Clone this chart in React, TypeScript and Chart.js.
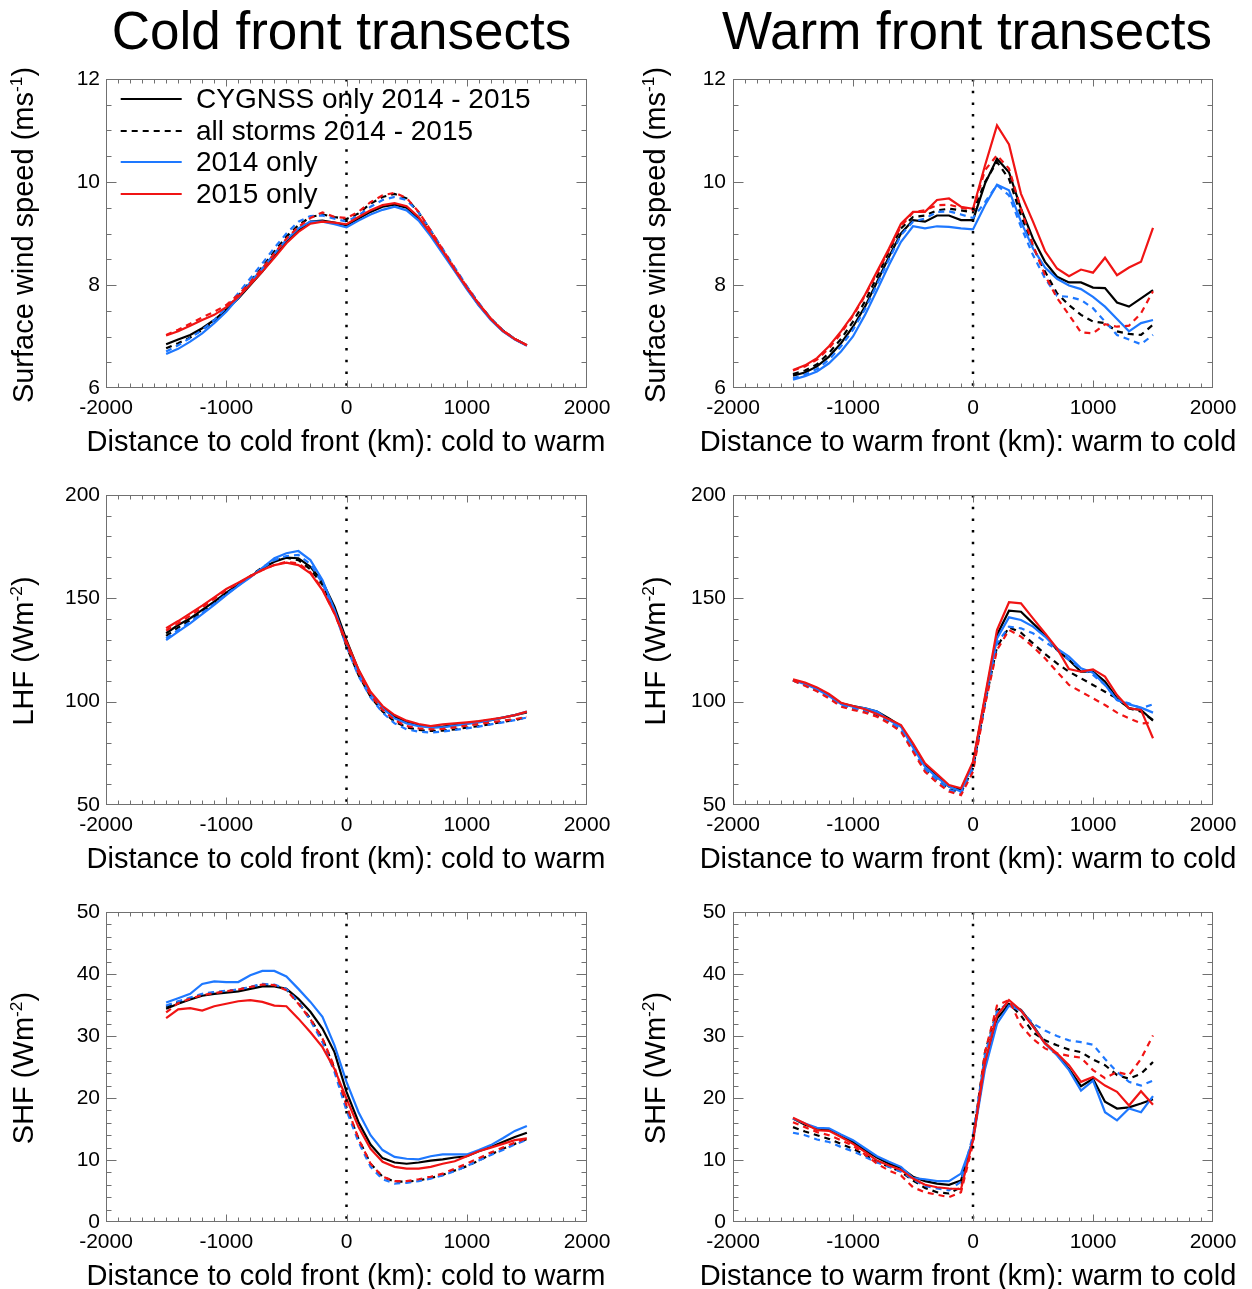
import React, { useEffect, useRef } from "react";
import { Chart, registerables } from "chart.js";

Chart.register(...registerables);

const FONT = '"Liberation Sans", Arial, Helvetica, sans-serif';

// ---------------- data ----------------
const distanceKm = [
  -1500, -1400, -1300, -1200, -1100, -1000, -900, -800, -700, -600, -500, -400, -300, -200, -100,
  0, 100, 200, 300, 400, 500, 600, 700, 800, 900, 1000, 1100, 1200, 1300, 1400, 1500,
];

const legendLabels = ["CYGNSS only 2014 - 2015", "all storms 2014 - 2015", "2014 only", "2015 only"];

// Cold front, surface wind speed (m/s)
const coldWind_cygnss = [6.85, 6.94, 7.03, 7.16, 7.32, 7.52, 7.74, 8.0, 8.26, 8.55, 8.84, 9.06, 9.23, 9.25, 9.21, 9.16, 9.29, 9.42, 9.52, 9.56, 9.5, 9.29, 8.98, 8.65, 8.29, 7.94, 7.61, 7.34, 7.11, 6.95, 6.83];
const coldWind_all = [6.77, 6.87, 6.98, 7.13, 7.3, 7.53, 7.79, 8.06, 8.35, 8.65, 8.94, 9.16, 9.32, 9.37, 9.32, 9.28, 9.39, 9.58, 9.71, 9.77, 9.68, 9.41, 9.05, 8.68, 8.32, 7.97, 7.64, 7.35, 7.12, 6.95, 6.83];
const coldWind_2014 = [6.66, 6.76, 6.9, 7.06, 7.26, 7.48, 7.75, 8.05, 8.32, 8.61, 8.88, 9.1, 9.23, 9.23, 9.18, 9.12, 9.25, 9.37, 9.46, 9.52, 9.45, 9.25, 8.95, 8.61, 8.27, 7.92, 7.6, 7.32, 7.1, 6.94, 6.82];
const coldWind_2014all = [6.71, 6.83, 6.97, 7.13, 7.32, 7.56, 7.84, 8.13, 8.42, 8.72, 9.0, 9.23, 9.34, 9.35, 9.29, 9.23, 9.35, 9.52, 9.65, 9.71, 9.65, 9.41, 9.06, 8.7, 8.34, 7.98, 7.65, 7.35, 7.12, 6.95, 6.83];
const coldWind_2015 = [7.02, 7.1, 7.21, 7.32, 7.42, 7.57, 7.77, 8.01, 8.26, 8.53, 8.81, 9.03, 9.19, 9.23, 9.21, 9.18, 9.32, 9.45, 9.55, 9.59, 9.53, 9.32, 9.0, 8.66, 8.3, 7.95, 7.63, 7.34, 7.11, 6.95, 6.83];
const coldWind_2015all = [7.03, 7.13, 7.25, 7.37, 7.48, 7.61, 7.81, 8.05, 8.32, 8.61, 8.9, 9.13, 9.3, 9.41, 9.32, 9.3, 9.42, 9.61, 9.74, 9.79, 9.69, 9.42, 9.06, 8.69, 8.32, 7.97, 7.64, 7.35, 7.12, 6.95, 6.83];

// Warm front, surface wind speed (m/s)
const warmWind_cygnss = [6.24, 6.3, 6.42, 6.61, 6.87, 7.19, 7.58, 8.06, 8.55, 9.0, 9.26, 9.23, 9.35, 9.35, 9.26, 9.26, 9.97, 10.45, 10.19, 9.48, 8.9, 8.45, 8.16, 8.05, 8.05, 7.95, 7.94, 7.66, 7.58, 7.74, 7.9];
const warmWind_all = [6.27, 6.34, 6.46, 6.68, 6.95, 7.29, 7.68, 8.16, 8.65, 9.1, 9.32, 9.35, 9.45, 9.48, 9.45, 9.41, 10.0, 10.39, 10.06, 9.35, 8.74, 8.26, 7.84, 7.61, 7.42, 7.29, 7.26, 7.1, 7.05, 7.03, 7.23];
const warmWind_2014 = [6.16, 6.23, 6.32, 6.48, 6.71, 7.0, 7.42, 7.9, 8.39, 8.84, 9.14, 9.1, 9.14, 9.13, 9.1, 9.08, 9.55, 9.95, 9.84, 9.23, 8.71, 8.34, 8.12, 7.99, 7.92, 7.77, 7.58, 7.34, 7.1, 7.26, 7.32];
const warmWind_2014all = [6.19, 6.26, 6.37, 6.55, 6.81, 7.13, 7.53, 8.01, 8.5, 8.97, 9.23, 9.29, 9.42, 9.43, 9.37, 9.3, 9.61, 9.94, 9.74, 9.13, 8.58, 8.13, 7.79, 7.77, 7.71, 7.55, 7.29, 7.03, 6.94, 6.85, 7.03];
const warmWind_2015 = [6.35, 6.44, 6.58, 6.81, 7.1, 7.42, 7.81, 8.26, 8.71, 9.19, 9.42, 9.42, 9.65, 9.68, 9.52, 9.48, 10.32, 11.1, 10.73, 9.77, 9.23, 8.66, 8.32, 8.17, 8.3, 8.24, 8.53, 8.19, 8.34, 8.45, 9.11];
const warmWind_2015all = [6.34, 6.42, 6.55, 6.77, 7.06, 7.4, 7.79, 8.23, 8.68, 9.14, 9.41, 9.45, 9.55, 9.56, 9.5, 9.45, 10.23, 10.52, 10.26, 9.48, 8.77, 8.19, 7.75, 7.42, 7.08, 7.06, 7.24, 7.19, 7.21, 7.45, 7.88];

// Cold front, LHF (W/m2)
const coldLHF_cygnss = [133.1, 137.1, 140.3, 144.4, 148.4, 152.7, 156.5, 160.5, 164.5, 167.7, 169.7, 169.4, 165.3, 158.1, 146.0, 129.8, 115.3, 104.0, 97.3, 92.7, 90.3, 88.7, 87.6, 87.9, 88.7, 89.5, 90.3, 91.1, 92.3, 93.5, 94.8];
const coldLHF_all = [131.8, 135.8, 139.5, 143.5, 147.9, 152.4, 156.5, 160.8, 165.0, 168.2, 169.7, 168.5, 164.0, 156.5, 144.4, 126.6, 112.9, 102.4, 95.2, 90.3, 87.6, 86.3, 85.8, 86.0, 86.6, 87.4, 88.2, 89.2, 90.2, 91.1, 92.4];
const coldLHF_2014 = [129.8, 133.9, 137.9, 142.3, 146.8, 151.6, 156.0, 160.2, 164.8, 169.4, 171.8, 172.9, 168.5, 158.9, 144.4, 128.2, 114.5, 104.0, 96.8, 91.9, 89.5, 88.2, 87.6, 87.6, 88.4, 89.2, 90.0, 91.1, 92.3, 93.5, 95.2];
const coldLHF_2014all = [130.6, 134.7, 138.6, 142.9, 147.3, 151.9, 156.2, 160.4, 164.6, 168.5, 170.5, 171.0, 166.6, 157.3, 143.5, 126.6, 112.4, 102.1, 94.7, 89.5, 86.6, 85.5, 85.0, 85.5, 86.3, 87.1, 87.9, 89.0, 90.0, 91.1, 92.3];
const coldLHF_2015 = [135.5, 139.0, 142.7, 146.5, 150.5, 154.5, 157.6, 160.8, 163.7, 166.1, 167.3, 166.1, 162.1, 154.0, 142.7, 129.0, 115.6, 104.8, 97.9, 93.5, 90.8, 89.2, 88.2, 89.0, 89.5, 90.0, 90.6, 91.5, 92.3, 93.5, 95.2];
const coldLHF_2015all = [134.4, 137.9, 141.6, 145.6, 149.7, 154.0, 157.3, 160.5, 163.7, 166.1, 167.7, 166.9, 162.6, 154.5, 142.7, 127.9, 114.0, 103.2, 96.0, 91.1, 88.2, 87.1, 86.6, 86.8, 87.6, 88.4, 89.2, 90.0, 90.8, 91.5, 92.7];

// Warm front, LHF (W/m2)
const warmLHF_cygnss = [110.5, 108.9, 106.5, 103.2, 99.2, 97.9, 96.8, 95.2, 91.9, 88.2, 78.5, 69.4, 64.0, 58.9, 57.3, 70.2, 101.6, 132.3, 144.0, 143.5, 137.9, 132.3, 125.0, 120.2, 114.5, 114.5, 109.7, 101.6, 96.8, 96.0, 90.8];
const warmLHF_all = [110.2, 108.1, 105.6, 102.4, 98.4, 96.8, 95.5, 93.5, 90.3, 86.3, 76.6, 67.3, 62.1, 57.6, 56.0, 67.7, 99.2, 126.6, 136.0, 133.4, 128.2, 123.1, 118.5, 114.5, 111.3, 108.1, 104.8, 101.6, 96.8, 95.2, 91.1];
const warmLHF_2014 = [110.5, 108.5, 106.0, 102.7, 98.9, 97.6, 96.8, 95.2, 91.1, 87.9, 77.9, 68.5, 63.4, 58.9, 56.5, 70.2, 100.8, 130.6, 140.8, 139.5, 136.3, 131.5, 125.8, 121.8, 116.1, 114.0, 108.1, 100.8, 98.7, 97.1, 94.7];
const warmLHF_2014all = [110.2, 108.0, 105.3, 102.1, 98.2, 96.8, 95.6, 94.0, 90.5, 86.6, 76.6, 67.3, 62.1, 57.3, 55.6, 67.7, 99.2, 128.2, 136.3, 135.5, 133.1, 129.0, 125.0, 120.2, 116.1, 112.9, 108.1, 100.8, 99.2, 96.8, 98.7];
const warmLHF_2015 = [110.8, 109.2, 106.9, 103.7, 99.5, 97.9, 96.3, 94.0, 91.5, 88.7, 79.8, 70.2, 65.0, 59.7, 58.1, 71.0, 102.7, 134.7, 148.1, 147.6, 140.3, 133.1, 125.8, 115.8, 114.5, 115.6, 112.1, 103.2, 96.8, 96.0, 82.3];
const warmLHF_2015all = [110.2, 107.7, 105.0, 101.6, 97.6, 96.0, 94.7, 92.7, 89.5, 85.5, 75.8, 66.1, 60.8, 56.5, 54.8, 66.1, 98.4, 125.0, 134.7, 131.5, 126.6, 121.0, 114.5, 108.1, 104.8, 101.6, 98.4, 94.7, 91.9, 89.5, 89.8];

// Cold front, SHF (W/m2)
const coldSHF_cygnss = [34.4, 35.2, 35.9, 36.5, 36.8, 37.0, 37.2, 37.6, 38.0, 38.0, 37.6, 36.0, 33.9, 31.2, 27.4, 21.0, 16.1, 12.5, 10.3, 9.6, 9.4, 9.6, 9.9, 10.1, 10.4, 10.6, 11.4, 12.1, 12.9, 13.7, 14.4];
const coldSHF_all = [34.7, 35.5, 36.1, 36.7, 37.0, 37.2, 37.5, 37.9, 38.3, 38.2, 37.5, 35.4, 32.8, 29.6, 24.7, 18.5, 13.4, 9.4, 7.3, 6.5, 6.5, 6.7, 7.1, 7.6, 8.3, 9.0, 9.9, 10.9, 11.8, 12.6, 13.4];
const coldSHF_2014 = [35.4, 36.1, 36.8, 38.4, 38.8, 38.7, 38.7, 39.8, 40.5, 40.5, 39.6, 37.6, 35.5, 33.1, 28.5, 22.6, 17.7, 14.0, 11.6, 10.5, 10.2, 10.1, 10.6, 10.9, 10.9, 10.9, 11.6, 12.4, 13.5, 14.7, 15.5];
const coldSHF_2014all = [34.9, 35.6, 36.2, 36.8, 37.1, 37.3, 37.5, 37.9, 38.4, 38.3, 37.6, 35.5, 32.5, 29.0, 24.2, 18.0, 12.9, 8.9, 6.9, 6.2, 6.3, 6.6, 7.0, 7.5, 8.2, 9.0, 9.9, 10.8, 11.6, 12.5, 13.3];
const coldSHF_2015 = [32.9, 34.3, 34.5, 34.1, 34.8, 35.2, 35.6, 35.8, 35.5, 34.9, 34.8, 32.8, 30.6, 28.2, 24.7, 19.9, 15.3, 11.8, 9.7, 8.9, 8.6, 8.6, 8.9, 9.4, 9.8, 10.6, 11.4, 12.0, 12.6, 13.2, 13.5];
const coldSHF_2015all = [33.8, 35.3, 36.0, 36.6, 36.9, 37.2, 37.5, 37.9, 38.3, 38.2, 37.4, 35.2, 32.7, 29.6, 25.0, 18.8, 13.4, 9.4, 7.3, 6.6, 6.6, 6.9, 7.3, 7.8, 8.6, 9.4, 10.3, 11.2, 12.0, 12.8, 13.5];

// Warm front, SHF (W/m2)
const warmSHF_cygnss = [16.7, 15.7, 15.1, 14.9, 14.0, 12.9, 11.6, 10.4, 9.4, 8.7, 7.3, 6.6, 6.2, 6.0, 6.7, 13.4, 25.5, 32.8, 35.1, 34.2, 31.7, 28.9, 27.0, 24.7, 21.9, 23.1, 19.4, 18.3, 18.5, 19.1, 19.8];
const warmSHF_all = [15.3, 14.6, 14.0, 13.4, 12.6, 11.8, 10.8, 9.7, 8.9, 8.1, 6.7, 5.5, 4.8, 4.6, 5.6, 13.4, 27.4, 34.1, 35.2, 33.3, 30.6, 29.3, 28.5, 27.8, 27.4, 26.2, 25.3, 23.7, 23.1, 23.9, 25.8];
const warmSHF_2014 = [16.7, 15.9, 15.2, 15.1, 14.1, 13.2, 11.9, 10.6, 9.7, 8.9, 7.1, 6.9, 6.6, 6.6, 7.8, 13.2, 24.7, 32.0, 34.9, 34.1, 31.6, 28.8, 26.9, 24.5, 21.2, 22.8, 17.7, 16.4, 18.3, 17.7, 20.3];
const warmSHF_2014all = [14.4, 14.0, 13.3, 12.9, 12.1, 11.4, 10.5, 9.6, 8.9, 8.1, 6.9, 5.8, 5.4, 5.1, 6.5, 14.0, 26.9, 33.9, 35.5, 34.1, 32.0, 30.9, 30.0, 29.3, 29.0, 28.6, 26.3, 24.2, 22.6, 22.0, 22.8];
const warmSHF_2015 = [16.8, 15.9, 14.8, 14.7, 13.7, 12.6, 11.3, 9.9, 9.1, 8.4, 7.0, 6.0, 5.6, 5.4, 5.3, 13.2, 25.8, 33.3, 35.8, 34.1, 31.5, 28.8, 27.2, 25.3, 22.6, 23.4, 22.0, 21.0, 18.8, 21.1, 18.9];
const warmSHF_2015all = [16.1, 15.3, 14.5, 14.0, 13.2, 12.3, 10.9, 9.4, 8.3, 7.5, 5.6, 4.8, 4.4, 4.0, 4.8, 12.6, 27.4, 34.9, 35.8, 31.7, 29.5, 28.0, 27.2, 26.8, 26.5, 24.5, 23.2, 24.2, 23.7, 26.3, 30.1];

// ---------------- styling ----------------
const BLACK = "#000000";
const BLUE = "#1e78ff";
const RED = "#f01414";
const DASH = [6, 5];
const AXIS_GRAY = "#707070";

type Series = { cyg: number[]; all: number[]; y14: number[]; y14all: number[]; y15: number[]; y15all: number[] };
type Panel = {
  key: string;
  col: number;
  row: number;
  yMin: number;
  yMax: number;
  yStep: number;
  yMinor: number;
  s: Series;
  legend?: boolean;
};

const panels: Panel[] = [
  { key: "cw", col: 0, row: 0, yMin: 6, yMax: 12, yStep: 2, yMinor: 0.5, legend: true,
    s: { cyg: coldWind_cygnss, all: coldWind_all, y14: coldWind_2014, y14all: coldWind_2014all, y15: coldWind_2015, y15all: coldWind_2015all } },
  { key: "ww", col: 1, row: 0, yMin: 6, yMax: 12, yStep: 2, yMinor: 0.5,
    s: { cyg: warmWind_cygnss, all: warmWind_all, y14: warmWind_2014, y14all: warmWind_2014all, y15: warmWind_2015, y15all: warmWind_2015all } },
  { key: "cl", col: 0, row: 1, yMin: 50, yMax: 200, yStep: 50, yMinor: 10,
    s: { cyg: coldLHF_cygnss, all: coldLHF_all, y14: coldLHF_2014, y14all: coldLHF_2014all, y15: coldLHF_2015, y15all: coldLHF_2015all } },
  { key: "wl", col: 1, row: 1, yMin: 50, yMax: 200, yStep: 50, yMinor: 10,
    s: { cyg: warmLHF_cygnss, all: warmLHF_all, y14: warmLHF_2014, y14all: warmLHF_2014all, y15: warmLHF_2015, y15all: warmLHF_2015all } },
  { key: "cs", col: 0, row: 2, yMin: 0, yMax: 50, yStep: 10, yMinor: 2,
    s: { cyg: coldSHF_cygnss, all: coldSHF_all, y14: coldSHF_2014, y14all: coldSHF_2014all, y15: coldSHF_2015, y15all: coldSHF_2015all } },
  { key: "ws", col: 1, row: 2, yMin: 0, yMax: 50, yStep: 10, yMinor: 2,
    s: { cyg: warmSHF_cygnss, all: warmSHF_all, y14: warmSHF_2014, y14all: warmSHF_2014all, y15: warmSHF_2015, y15all: warmSHF_2015all } },
];

// geometry
const CANVAS_W = 626;
const colLeft = [0, 626];
const yAxisW = [106, 107];
const yTickPad = [6, 7];
const PAD_RIGHT = 39;
const PAD_TOP = 22;
const X_AXIS_H = 40;
const plotTop = [79, 495, 912];
const plotH = [309, 310, 310];

// frame + inward ticks plugin (IDL-like box)
const frameTicks = {
  id: "frameTicks",
  afterDatasetsDraw(chart: any, _args: any, opts: any) {
    const { ctx, chartArea: a, scales } = chart;
    const xs = scales.x;
    const ys = scales.y;
    ctx.save();
    ctx.strokeStyle = AXIS_GRAY;
    ctx.lineWidth = 1;
    ctx.setLineDash([]);
    const L = Math.round(a.left) + 0.5;
    const R = Math.round(a.right) - 0.5;
    const T = Math.round(a.top) + 0.5;
    const B = Math.round(a.bottom) - 0.5;
    ctx.strokeRect(L, T, R - L, B - T);
    ctx.beginPath();
    const nx = Math.round((xs.max - xs.min) / opts.xMinor);
    for (let i = 1; i < nx; i++) {
      const v = xs.min + i * opts.xMinor;
      const major = Math.abs(v / opts.xMajor - Math.round(v / opts.xMajor)) < 1e-6;
      const len = major ? 7 : 4;
      const p = Math.round(xs.getPixelForValue(v)) + 0.5;
      ctx.moveTo(p, B);
      ctx.lineTo(p, B - len);
      ctx.moveTo(p, T);
      ctx.lineTo(p, T + len);
    }
    const ny = Math.round((ys.max - ys.min) / opts.yMinor);
    for (let i = 1; i < ny; i++) {
      const v = ys.min + i * opts.yMinor;
      const major = Math.abs((v - ys.min) / opts.yMajor - Math.round((v - ys.min) / opts.yMajor)) < 1e-6;
      const len = major ? 10 : 5;
      const p = Math.round(ys.getPixelForValue(v)) + 0.5;
      ctx.moveTo(L, p);
      ctx.lineTo(L + len, p);
      ctx.moveTo(R, p);
      ctx.lineTo(R - len, p);
    }
    ctx.stroke();
    ctx.restore();
  },
};

// legend drawn inside the first panel
const insideLegend = {
  id: "insideLegend",
  afterDatasetsDraw(chart: any, _args: any, opts: any) {
    if (!opts || !opts.items) return;
    const { ctx, chartArea: a } = chart;
    ctx.save();
    opts.items.forEach((it: any, i: number) => {
      const y = Math.round(a.top + opts.firstY + i * opts.spacing);
      ctx.beginPath();
      ctx.strokeStyle = it.color;
      ctx.lineWidth = 2;
      ctx.setLineDash(it.dash || []);
      ctx.moveTo(a.left + opts.lineX0, y);
      ctx.lineTo(a.left + opts.lineX1, y);
      ctx.stroke();
      ctx.setLineDash([]);
      ctx.fillStyle = "#000";
      ctx.font = `28px ${FONT}`;
      ctx.textBaseline = "middle";
      ctx.textAlign = "left";
      ctx.fillText(it.text, a.left + opts.textX, y + 1);
    });
    ctx.restore();
  },
};

function line(vals: number[], color: string, dashed: boolean, label: string) {
  return {
    label,
    data: distanceKm.map((x, i) => ({ x, y: vals[i] })),
    borderColor: color,
    backgroundColor: color,
    borderWidth: 2.2,
    borderDash: dashed ? DASH : [],
    pointRadius: 0,
    tension: 0,
    fill: false,
  };
}

function buildConfig(p: Panel): any {
  const tickFont = { family: FONT, size: 21 };
  const datasets = [
    {
      label: "front",
      data: [
        { x: 0, y: p.yMax },
        { x: 0, y: p.yMin },
      ],
      borderColor: BLACK,
      borderWidth: 2.5,
      borderDash: [2.5, 9.2],
      pointRadius: 0,
      fill: false,
    },
    line(p.s.y15, RED, false, "2015 only"),
    line(p.s.y15all, RED, true, "2015 all storms"),
    line(p.s.y14, BLUE, false, "2014 only"),
    line(p.s.y14all, BLUE, true, "2014 all storms"),
    line(p.s.cyg, BLACK, false, legendLabels[0]),
    line(p.s.all, BLACK, true, legendLabels[1]),
  ];
  const plugins: any[] = [frameTicks];
  if (p.legend) plugins.push(insideLegend);
  return {
    type: "line",
    data: { datasets },
    plugins,
    options: {
      animation: false,
      responsive: false,
      maintainAspectRatio: false,
      devicePixelRatio: 1,
      events: [],
      layout: { padding: { left: 0, right: PAD_RIGHT, top: PAD_TOP, bottom: 0 } },
      plugins: {
        legend: { display: false },
        tooltip: { enabled: false },
        title: { display: false },
        frameTicks: { xMinor: 100, xMajor: 1000, yMinor: p.yMinor, yMajor: p.yStep },
        insideLegend: p.legend
          ? {
              firstY: 20,
              spacing: 31.5,
              lineX0: 14.7,
              lineX1: 75.7,
              textX: 90,
              items: [
                { text: legendLabels[0], color: BLACK, dash: [] },
                { text: legendLabels[1], color: BLACK, dash: DASH },
                { text: legendLabels[2], color: BLUE, dash: [] },
                { text: legendLabels[3], color: RED, dash: [] },
              ],
            }
          : {},
      },
      scales: {
        x: {
          type: "linear",
          min: -2000,
          max: 2000,
          grid: { display: false, drawTicks: false },
          border: { display: false },
          ticks: {
            stepSize: 1000,
            font: tickFont,
            color: "#000",
            padding: 8,
            maxRotation: 0,
            autoSkip: false,
            callback: (v: any) => String(v),
          },
          afterFit: (s: any) => {
            s.height = X_AXIS_H;
          },
        },
        y: {
          type: "linear",
          min: p.yMin,
          max: p.yMax,
          grid: { display: false, drawTicks: false },
          border: { display: false },
          ticks: {
            stepSize: p.yStep,
            font: tickFont,
            color: "#000",
            padding: yTickPad[p.col],
            autoSkip: false,
            callback: (v: any) => String(v),
          },
          afterFit: (s: any) => {
            s.width = yAxisW[p.col];
          },
        },
      },
    },
  };
}

function PanelChart({ p }: { p: Panel }) {
  const ref = useRef<HTMLCanvasElement | null>(null);
  const top = plotTop[p.row] - PAD_TOP;
  const h = PAD_TOP + plotH[p.row] + X_AXIS_H;
  useEffect(() => {
    if (!ref.current) return;
    const chart = new Chart(ref.current, buildConfig(p));
    return () => chart.destroy();
  }, []);
  return (
    <canvas
      ref={ref}
      width={CANVAS_W}
      height={h}
      style={{ position: "absolute", left: colLeft[p.col], top, width: CANVAS_W, height: h }}
    />
  );
}

const yTitles = [
  <>Surface wind speed (ms<sup style={{ fontSize: "0.6em" }}>-1</sup>)</>,
  <>LHF (Wm<sup style={{ fontSize: "0.6em" }}>-2</sup>)</>,
  <>SHF (Wm<sup style={{ fontSize: "0.6em" }}>-2</sup>)</>,
];
const xTitles = ["Distance to cold front (km): cold to warm", "Distance to warm front (km): warm to cold"];
const columnTitles = ["Cold front transects", "Warm front transects"];

const yTitleX = [23, 655];
const xTitleX = [346, 968];
const colTitleX = [341.5, 967];

export default function App() {
  const centered = (cx: number, cy: number, extra: any = {}): any => ({
    position: "absolute",
    left: cx,
    top: cy,
    transform: "translate(-50%, -50%)",
    whiteSpace: "nowrap",
    fontFamily: FONT,
    color: "#000",
    lineHeight: 1,
    ...extra,
  });
  return (
    <div
      style={{
        position: "absolute",
        left: 0,
        top: 0,
        width: 1252,
        height: 1289,
        background: "#fff",
        overflow: "hidden",
      }}
    >
      {panels.map((p) => (
        <PanelChart key={p.key} p={p} />
      ))}
      {columnTitles.map((t, c) => (
        <div key={"ct" + c} style={centered(colTitleX[c], 30, { fontSize: 53 })}>
          {t}
        </div>
      ))}
      {[0, 1, 2].map((r) =>
        [0, 1].map((c) => (
          <div
            key={"yt" + r + c}
            style={centered(yTitleX[c], plotTop[r] + plotH[r] / 2 + 1, {
              fontSize: 29,
              transform: "translate(-50%, -50%) rotate(-90deg)",
            })}
          >
            {yTitles[r]}
          </div>
        ))
      )}
      {[0, 1, 2].map((r) =>
        [0, 1].map((c) => (
          <div key={"xt" + r + c} style={centered(xTitleX[c], plotTop[r] + plotH[r] + 53, { fontSize: 29 })}>
            {xTitles[c]}
          </div>
        ))
      )}
    </div>
  );
}
